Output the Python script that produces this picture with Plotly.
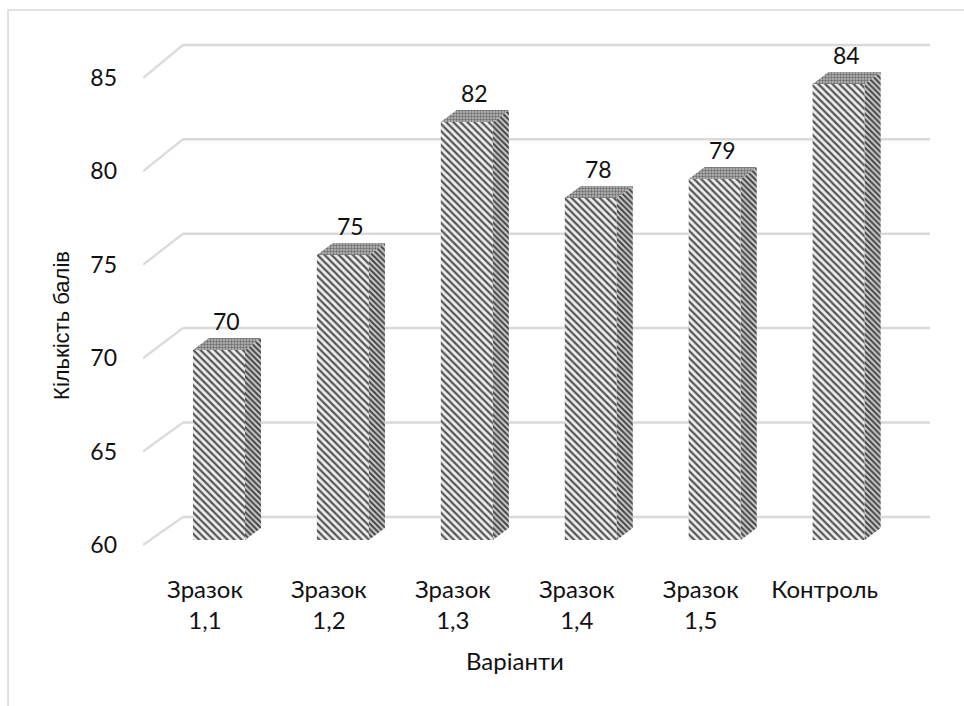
import plotly.graph_objects as go

# --- data ---
categories = ["Зразок<br>1,1", "Зразок<br>1,2", "Зразок<br>1,3",
              "Зразок<br>1,4", "Зразок<br>1,5", "Контроль"]
scores = [70, 75, 82, 78, 79, 84]
y_ticks = [60, 65, 70, 75, 80, 85]
x_title = "Варіанти"
y_title = "Кількість балів"

FONT = "Lato"
TEXT = "#111111"
GRID = "#d9d9d9"

# --- pseudo-3D geometry (axis units) ---
BASE = 60
FACE_OFF = -0.097      # front face starts left of the category slot
FACE_W = 0.42          # front face width
SIDE_DX = 0.129        # depth of the box, horizontal part
SIDE_DY = 0.63         # depth of the box, vertical part (bar axis units)
WALL_DX = 0.3226       # back wall shift to the right
# back wall expressed in front-axis units
WALL_TOP, WALL_SCALE = 86.77, 1.0107

def wall_y(v):
    return WALL_TOP + (v - 85) * WALL_SCALE

xs = list(range(len(categories)))
fig = go.Figure()

# back-wall gridlines plus the slanted side-wall lines
gx, gy, sx, sy = [], [], [], []
for t in y_ticks:
    gx += [-0.5 + WALL_DX, 5.85, None]
    gy += [wall_y(t), wall_y(t), None]
    sx += [-0.5, -0.5 + WALL_DX, None]
    sy += [t, wall_y(t), None]
fig.add_trace(go.Scatter(x=gx, y=gy, mode="lines", yaxis="y",
                         line=dict(color=GRID, width=2.5), hoverinfo="skip"))
fig.add_trace(go.Scatter(x=sx, y=sy, mode="lines", yaxis="y",
                         line=dict(color="#dcdcdc", width=2.5),
                         hoverinfo="skip"))

# front faces
fig.add_trace(go.Bar(
    x=xs, y=[v - BASE for v in scores], base=BASE, yaxis="y2",
    width=FACE_W, offset=FACE_OFF,
    marker=dict(color="white", line=dict(width=0),
                pattern=dict(shape="\\", fgcolor="#555555", bgcolor="#eeeeee",
                             size=5, solidity=0.45, fillmode="replace")),
    hoverinfo="skip"))

# side and top faces
for x, v in zip(xs, scores):
    x0 = x + FACE_OFF
    x1 = x0 + FACE_W
    fig.add_trace(go.Scatter(
        x=[x1, x1, x1 + SIDE_DX, x1 + SIDE_DX, x1],
        y=[BASE, v, v + SIDE_DY, BASE + SIDE_DY, BASE],
        yaxis="y2", mode="lines", fill="toself", line=dict(width=0),
        fillcolor="#9a9a9a",
        fillpattern=dict(shape="\\", fgcolor="#444444", bgcolor="#cccccc",
                         size=4, solidity=0.5, fillmode="replace"),
        hoverinfo="skip"))
    fig.add_trace(go.Scatter(
        x=[x0, x1, x1 + SIDE_DX, x0 + SIDE_DX, x0],
        y=[v, v, v + SIDE_DY, v + SIDE_DY, v],
        yaxis="y2", mode="lines", fill="toself", line=dict(width=0),
        fillcolor="#9a9a9a",
        fillpattern=dict(shape=".", fgcolor="#6e6e6e", bgcolor="#bcbcbc",
                         size=3, solidity=0.5, fillmode="replace"),
        hoverinfo="skip"))
    fig.add_annotation(x=x0 + FACE_W / 2 + SIDE_DX / 2, y=v + SIDE_DY,
                       yref="y2", text=str(v), showarrow=False,
                       yanchor="bottom", yshift=1,
                       font=dict(family=FONT, size=23, color=TEXT))

# axis titles
fig.add_annotation(xref="paper", yref="paper", x=0.473, y=-0.162,
                   text=x_title, showarrow=False, xanchor="center",
                   yanchor="middle", font=dict(family=FONT, size=24, color=TEXT))
fig.add_annotation(xref="paper", yref="paper", x=-0.103, y=0.4576,
                   text=y_title, showarrow=False, textangle=-90,
                   xanchor="center", yanchor="middle",
                   font=dict(family="Liberation Sans", size=22, color=TEXT))

# chart frame
fig.add_shape(type="rect", xref="paper", yref="paper",
              x0=-0.1715, x1=1.1, y0=-0.3, y1=1.0387,
              line=dict(color=GRID, width=1.5), layer="below")

fig.update_layout(
    width=964, height=706,
    margin=dict(l=143, r=34, t=31, b=133),
    paper_bgcolor="white", plot_bgcolor="white",
    showlegend=False,
    font=dict(family=FONT, size=23, color=TEXT),
    xaxis=dict(range=[-0.5, 5.85], tickmode="array", tickvals=xs,
               ticktext=categories, showgrid=False, zeroline=False,
               showline=False, ticks="", ticklabelstandoff=0,
               tickfont=dict(family=FONT, size=24, color=TEXT)),
    yaxis=dict(range=[58.5, 87.516], tickvals=y_ticks, showgrid=False,
               zeroline=False, showline=False, ticks="",
               ticklabelstandoff=25,
               tickfont=dict(family=FONT, size=23, color=TEXT)),
    yaxis2=dict(range=[58.26, 86.79], overlaying="y", visible=False),
)

fig.write_html("out.html")
